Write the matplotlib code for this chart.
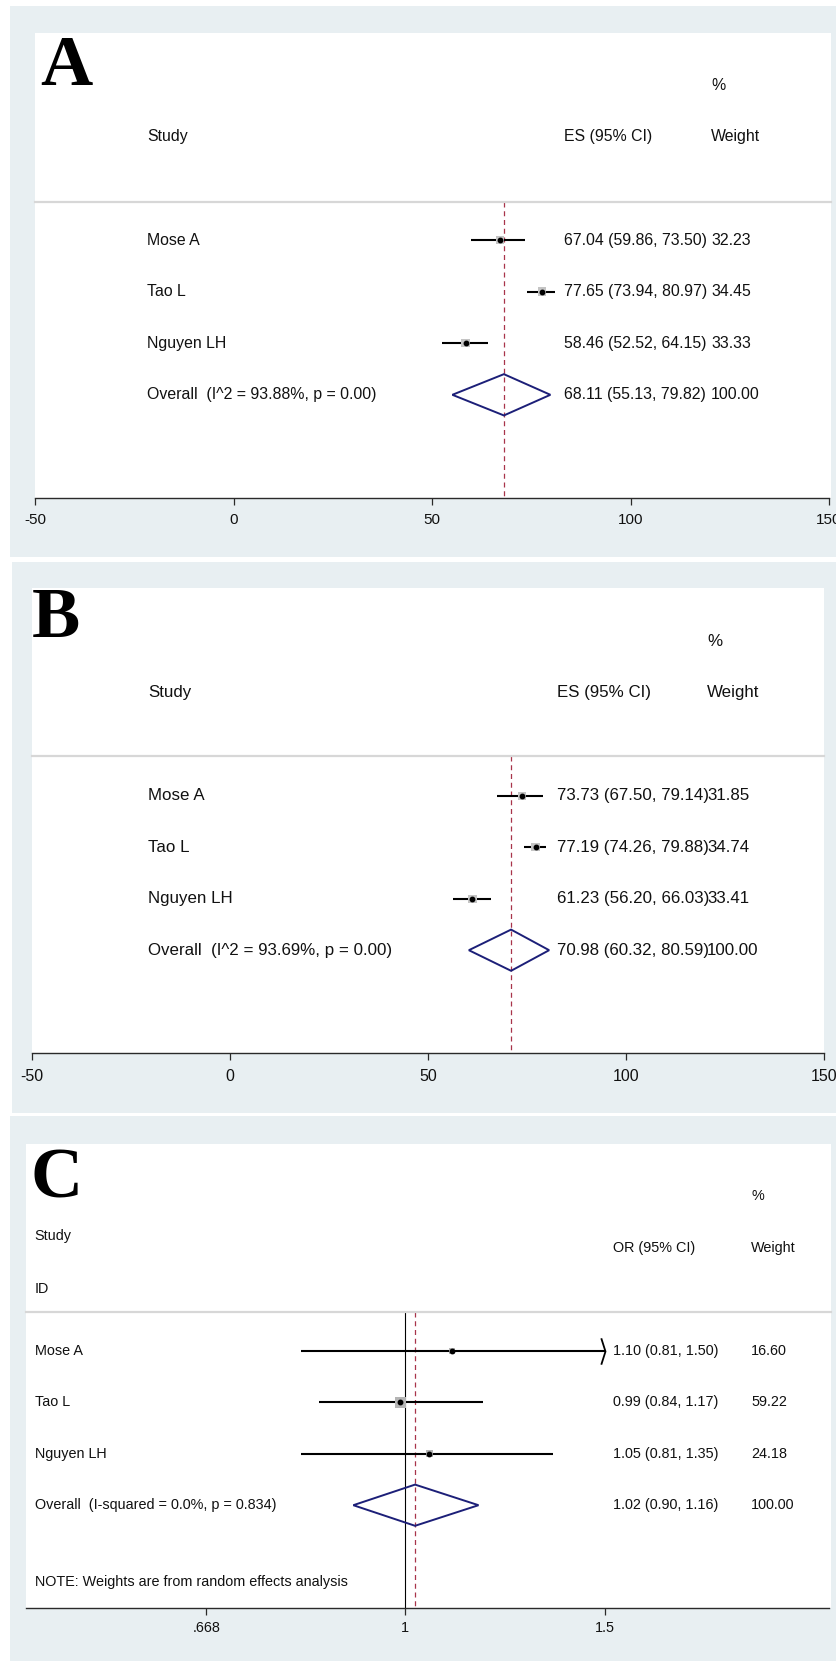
import matplotlib
matplotlib.use("Agg")
import matplotlib.pyplot as plt
import numpy as np
from matplotlib import font_manager
from matplotlib.patches import Rectangle, Polygon
from matplotlib.lines import Line2D
from matplotlib.transforms import blended_transform_factory

# ---------------- data ----------------
studies = ["Mose A", "Tao L", "Nguyen LH"]

a_es = [67.04, 77.65, 58.46]
a_lo = [59.86, 73.94, 52.52]
a_hi = [73.50, 80.97, 64.15]
a_wt = [32.23, 34.45, 33.33]
a_overall = [68.11, 55.13, 79.82]
a_overall_label = "Overall  (I^2 = 93.88%, p = 0.00)"

b_es = [73.73, 77.19, 61.23]
b_lo = [67.50, 74.26, 56.20]
b_hi = [79.14, 79.88, 66.03]
b_wt = [31.85, 34.74, 33.41]
b_overall = [70.98, 60.32, 80.59]
b_overall_label = "Overall  (I^2 = 93.69%, p = 0.00)"

c_or = [1.10, 0.99, 1.05]
c_lo = [0.81, 0.84, 0.81]
c_hi = [1.50, 1.17, 1.35]
c_wt = [16.60, 59.22, 24.18]
c_overall = [1.02, 0.90, 1.16]
c_overall_label = "Overall  (I-squared = 0.0%, p = 0.834)"
c_note = "NOTE: Weights are from random effects analysis"
c_null = 1.0

overall_weight = 100.00
ab_ticks = [-50, 0, 50, 100, 150]
ab_ticklabels = ["-50", "0", "50", "100", "150"]
c_ticks = [0.668, 1, 1.5]
c_ticklabels = [".668", "1", "1.5"]

# ---------------- style / layout ----------------
W, H, DPI = 836, 1661, 100
BG = "#e8eff2"
TXT = "#111111"
NAVY = "#1c1f78"
RED = "#a8344a"
SEP = "#d7d7d7"

names = {f.name for f in font_manager.fontManager.ttflist}
SANS = "Liberation Sans" if "Liberation Sans" in names else "DejaVu Sans"
if "Liberation Sans Narrow" in names:
    NARROW, NARROW_SCALE = "Liberation Sans Narrow", 0.98
else:
    NARROW, NARROW_SCALE = SANS, 0.845
SERIF = "Liberation Serif" if "Liberation Serif" in names else "DejaVu Serif"

fig = plt.figure(figsize=(W / DPI, H / DPI), dpi=DPI)
fig.patch.set_facecolor("white")


def fx(px):
    return px / W


def fy(py):
    return 1 - py / H


def rect(x0, y0, x1, y1, color):
    fig.add_artist(Rectangle((fx(x0), fy(y1)), (x1 - x0) / W, (y1 - y0) / H,
                             transform=fig.transFigure, facecolor=color,
                             edgecolor="none", zorder=-10))


def panel(letter, letter_pos, gray, white, axis_x, row0, step, xlim, log,
          ticks, ticklabels, es, lo, hi, wt, overall, overall_label,
          study_x, es_x, wt_x, pct_x, header_rows, font, fsize, tick_fsize,
          tick_pad, box_gray, note=None, note_row=None, null=None,
          es_header="ES (95% CI)"):
    rect(*gray, BG)
    rect(*white, "white")
    wx0, wy0, wx1, wy1 = white
    ax0, ax1 = axis_x
    ax = fig.add_axes([fx(ax0), fy(wy1), (ax1 - ax0) / W, (wy1 - wy0) / H])
    ax.set_facecolor("none")
    ybot = (wy1 - row0) / step
    ytop = (wy0 - row0) / step
    ax.set_ylim(ybot, ytop)
    if log:
        ax.set_xscale("log")
    ax.set_xlim(*xlim)
    ax.set_xticks(ticks)
    ax.set_xticklabels(ticklabels)
    ax.xaxis.set_minor_locator(matplotlib.ticker.NullLocator())
    ax.set_yticks([])
    for s in ["top", "left", "right"]:
        ax.spines[s].set_visible(False)
    ax.spines["bottom"].set_color("#2a2a2a")
    ax.spines["bottom"].set_linewidth(1.0)
    ax.tick_params(axis="x", length=5, width=0.9, color="#2a2a2a",
                   pad=tick_pad, labelsize=tick_fsize, labelcolor=TXT)
    for lab in ax.get_xticklabels():
        lab.set_fontfamily(font)

    tr = blended_transform_factory(fig.transFigure, ax.transData)
    rows = np.arange(len(es))
    orow = len(es)

    # header separator
    hsep = header_rows["sep"]
    fig.add_artist(Line2D([fx(wx0), fx(wx1)], [hsep, hsep], transform=tr,
                          color=SEP, lw=1.6, zorder=1))

    # reference lines
    if null is not None:
        ax.plot([null, null], [hsep, ybot], color="black", lw=0.8, zorder=2)
    ax.plot([overall[0], overall[0]], [hsep, ybot], color=RED, lw=0.9,
            ls=(0, (4, 3)), zorder=2)

    # study CIs
    top_tick = max(ticks)
    for i in range(len(es)):
        ax.plot([lo[i], hi[i]], [rows[i], rows[i]], color="black", lw=1.5,
                zorder=3, solid_capstyle="butt")
        if log and hi[i] >= top_tick:
            ax.plot([hi[i]], [rows[i]], marker=[(-0.32, 1), (0, 0), (-0.32, -1)],
                    ms=19, mfc="none", mec="black", mew=1.3, zorder=3)
    sides = 1.43 * np.sqrt(np.array(wt)) * 72 / DPI
    ax.scatter(es, rows, marker="s", s=sides ** 2, color=box_gray,
               linewidths=0, zorder=4)
    ax.plot(es, rows, "o", ms=3.2, color="black", zorder=5)

    # overall diamond
    h = 0.4
    ax.add_patch(Polygon([(overall[1], orow), (overall[0], orow - h),
                          (overall[2], orow), (overall[0], orow + h)],
                         closed=True, facecolor="none", edgecolor=NAVY,
                         lw=1.4, zorder=4))

    kw = dict(transform=tr, va="center", ha="left", fontsize=fsize,
              family=font, color=TXT)
    # headers
    fig.text(fx(pct_x), header_rows["pct"], "%", **kw)
    fig.text(fx(study_x), header_rows["study"], "Study", **kw)
    if "id" in header_rows:
        fig.text(fx(study_x), header_rows["id"], "ID", **kw)
    fig.text(fx(es_x), header_rows["es"], es_header, **kw)
    fig.text(fx(wt_x), header_rows["es"], "Weight", **kw)

    for i, name in enumerate(studies):
        fig.text(fx(study_x), rows[i], name, **kw)
        fig.text(fx(es_x), rows[i], f"{es[i]:.2f} ({lo[i]:.2f}, {hi[i]:.2f})", **kw)
        fig.text(fx(wt_x), rows[i], f"{wt[i]:.2f}", **kw)
    fig.text(fx(study_x), orow, overall_label, **kw)
    fig.text(fx(es_x), orow,
             f"{overall[0]:.2f} ({overall[1]:.2f}, {overall[2]:.2f})", **kw)
    fig.text(fx(wt_x), orow, f"{overall_weight:.2f}", **kw)
    if note is not None:
        fig.text(fx(study_x), note_row, note, **kw)

    # panel letter
    fig.text(fx(letter_pos[0]), fy(letter_pos[1]), letter, family=SERIF,
             fontweight="bold", fontsize=52, ha="left", va="baseline",
             color="black")
    return ax


# Panel A
panel("A", (40, 85), (10, 6, 836, 557), (35, 33, 831, 498), (35, 829),
      240.0, 51.6, (-50, 150), False, ab_ticks, ab_ticklabels,
      a_es, a_lo, a_hi, a_wt, a_overall, a_overall_label,
      study_x=147, es_x=564, wt_x=711, pct_x=711,
      header_rows={"pct": -3.0, "study": -2.0, "es": -2.0, "sep": -0.74},
      font=SANS, fsize=11.4, tick_fsize=11, tick_pad=6, box_gray="#c4c4c4")

# Panel B
panel("B", (32, 637), (12, 562, 836, 1113), (32, 588, 824, 1053), (32, 824),
      795.7, 51.5, (-50, 150), False, ab_ticks, ab_ticklabels,
      b_es, b_lo, b_hi, b_wt, b_overall, b_overall_label,
      study_x=148, es_x=557, wt_x=707, pct_x=707,
      header_rows={"pct": -3.0, "study": -2.0, "es": -2.0, "sep": -0.78},
      font=SANS, fsize=12.2, tick_fsize=11.5, tick_pad=6.8, box_gray="#c4c4c4")

# Panel C (log scale)
c_px_one, c_px_top = 405.3, 605.3
c_scale = (c_px_top - c_px_one) / np.log(c_ticks[-1])
c_ax_x = (26, 829)
c_xlim = (np.exp((c_ax_x[0] - c_px_one) / c_scale),
          np.exp((c_ax_x[1] - c_px_one) / c_scale))
panel("C", (30, 1197), (10, 1116, 836, 1661), (26, 1144, 831, 1608), c_ax_x,
      1350.7, 51.5, c_xlim, True, c_ticks, c_ticklabels,
      c_or, c_lo, c_hi, c_wt, c_overall, c_overall_label,
      study_x=34.7, es_x=613, wt_x=751, pct_x=752,
      header_rows={"pct": -3.0, "study": -2.22, "id": -1.2, "es": -2.0,
                   "sep": -0.75},
      font=NARROW, fsize=12.3 * NARROW_SCALE, tick_fsize=12.3 * NARROW_SCALE,
      tick_pad=4.3, box_gray="#b4b4b4", note=c_note, note_row=4.5,
      null=c_null, es_header="OR (95% CI)")

fig.savefig("out.png", dpi=DPI, facecolor=fig.get_facecolor())
